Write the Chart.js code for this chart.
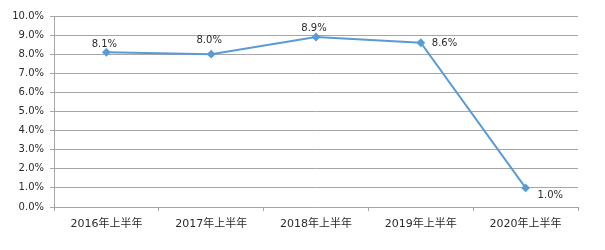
<!DOCTYPE html>
<html>
<head>
<meta charset="utf-8">
<script src="https://cdn.jsdelivr.net/npm/chart.js@4"></script>
<style>
  html, body { margin: 0; padding: 0; background: #fff; }
  #wrap { width: 605px; height: 250px; }
</style>
</head>
<body>
<div id="wrap"><canvas id="c" width="605" height="250"></canvas></div>
<script>
const categories = ['2016年上半年', '2017年上半年', '2018年上半年', '2019年上半年', '2020年上半年'];
const growth = [8.1, 8.0, 8.9, 8.6, 1.0];
// where each value label sits relative to its point
const labelPos = ['top', 'top', 'top', 'right', 'bottomRight'];
const labelGap = [3, 9, 4, 0, 0];

const lineColor = '#5b9bd5';
const textColor = '#2b2b2b';
const gridColor = '#a6a6a6';

// simple value labels drawn next to each point
const valueLabels = {
    id: 'valueLabels',
    afterDatasetsDraw(chart) {
        const ctx = chart.ctx;
        const meta = chart.getDatasetMeta(0);
        ctx.save();
        ctx.font = '10px Verdana, "DejaVu Sans", sans-serif';
        ctx.fillStyle = textColor;
        meta.data.forEach((pt, i) => {
            const txt = growth[i].toFixed(1) + '%';
            const pos = labelPos[i];
            if (pos === 'top') {
                ctx.textAlign = 'center';
                ctx.textBaseline = 'bottom';
                ctx.fillText(txt, pt.x - 2, pt.y - labelGap[i]);
            } else if (pos === 'right') {
                ctx.textAlign = 'left';
                ctx.textBaseline = 'middle';
                ctx.fillText(txt, pt.x + 11, pt.y + 1);
            } else {
                ctx.textAlign = 'left';
                ctx.textBaseline = 'middle';
                ctx.fillText(txt, pt.x + 12, pt.y + 8);
            }
        });
        ctx.restore();
    }
};

new Chart(document.getElementById('c').getContext('2d'), {
    type: 'line',
    data: {
        labels: categories,
        datasets: [{
            data: growth,
            borderColor: lineColor,
            backgroundColor: lineColor,
            borderWidth: 2,
            pointStyle: 'rectRot',
            pointRadius: 3,
            pointHoverRadius: 3,
            tension: 0
        }]
    },
    options: {
        responsive: false,
        animation: false,
        devicePixelRatio: 1,
        layout: { padding: { top: 16, right: 27, left: 0, bottom: 0 } },
        plugins: {
            legend: { display: false },
            tooltip: { enabled: false }
        },
        scales: {
            x: {
                offset: true,
                grid: {
                    offset: true,
                    drawOnChartArea: false,
                    drawTicks: true,
                    tickLength: 4,
                    color: gridColor
                },
                border: { color: gridColor, width: 1 },
                ticks: {
                    color: textColor,
                    font: { family: 'Verdana, "DejaVu Sans", "Noto Sans CJK SC"', size: 11 },
                    padding: 7,
                    maxRotation: 0
                },
                afterFit(axis) { axis.height = 43; }
            },
            y: {
                min: 0,
                max: 10,
                ticks: {
                    stepSize: 1,
                    color: textColor,
                    font: { family: 'Verdana, "DejaVu Sans", sans-serif', size: 10 },
                    padding: 6,
                    callback: v => v.toFixed(1) + '%'
                },
                grid: {
                    color: gridColor,
                    lineWidth: 1,
                    tickLength: 4
                },
                border: { color: gridColor, width: 1 },
                afterFit(axis) { axis.width = 54; }
            }
        }
    },
    plugins: [valueLabels]
});
</script>
</body>
</html>
